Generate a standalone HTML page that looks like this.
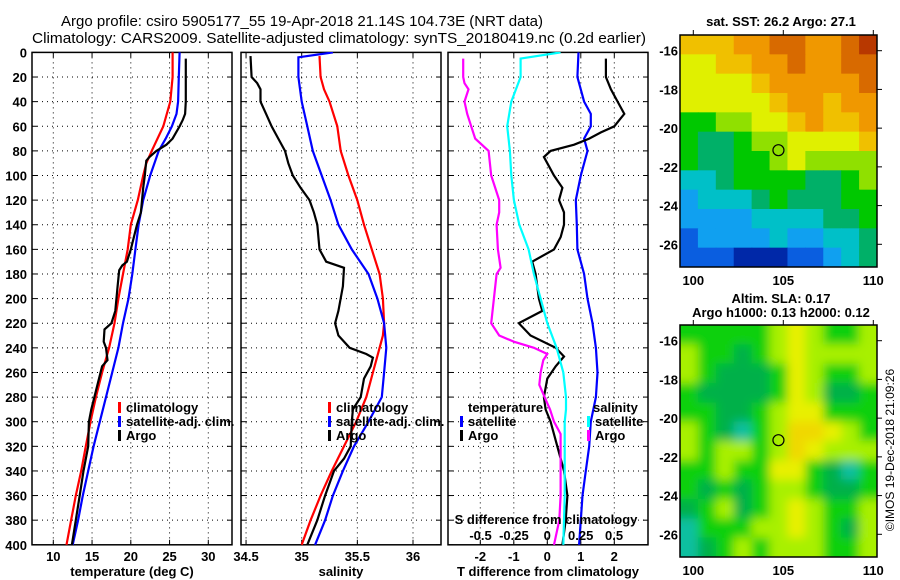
<!DOCTYPE html>
<html><head><meta charset="utf-8">
<style>
html,body{margin:0;padding:0;background:#fff;}
svg{display:block;font-family:"Liberation Sans",sans-serif;font-weight:bold;}
</style></head>
<body>
<svg id="fig" width="900" height="580" viewBox="0 0 900 580" xmlns="http://www.w3.org/2000/svg">
<defs><filter id="blur" x="0" y="0" width="1" height="1"><feGaussianBlur stdDeviation="5"/></filter>
<clipPath id="c1"><rect x="32" y="52" width="200" height="493"/></clipPath>
<clipPath id="c2"><rect x="241" y="52" width="200" height="493"/></clipPath>
<clipPath id="c3"><rect x="448" y="52" width="200" height="493"/></clipPath>
<clipPath id="m1"><rect x="680" y="35" width="197" height="232"/></clipPath>
<clipPath id="m2"><rect x="680" y="325" width="197" height="232"/></clipPath>
</defs>
<text x="61" y="26" font-size="15" font-weight="normal" textLength="482" lengthAdjust="spacingAndGlyphs">Argo profile: csiro 5905177_55 19-Apr-2018 21.14S 104.73E (NRT data)</text>
<text x="32" y="43" font-size="15" font-weight="normal" textLength="614" lengthAdjust="spacingAndGlyphs">Climatology: CARS2009. Satellite-adjusted climatology: synTS_20180419.nc (0.2d earlier)</text>
<g id="plots"></g>
<text x="781" y="26" font-size="13" text-anchor="middle">sat. SST: 26.2 Argo: 27.1</text>
<text x="781" y="303" font-size="13" text-anchor="middle">Altim. SLA: 0.17</text>
<text x="781" y="317" font-size="13" text-anchor="middle">Argo h1000: 0.13 h2000: 0.12</text>
<text transform="translate(894,450) rotate(-90)" font-size="12" font-weight="normal" text-anchor="middle">©IMOS 19-Dec-2018 21:09:26</text>
</svg>
<script>
// ---------- data ----------
const depthTick=[0,20,40,60,80,100,120,140,160,180,200,220,240,260,280,300,320,340,360,380,400];
const tempTicks=[10,15,20,25,30];
const salTicks=[34.5,35,35.5,36];
const tdiffTicks=[-2,-1,0,1,2];
const sdiffTicks=[-0.5,-0.25,0,0.25,0.5];
const sdiffLabels=["-0.5","-0.25","0","0.25","0.5"];

const tClimDepth=[0,20,40,60,80,90,100,120,140,160,180,200,220,240,260,280,300,320,340,360,380,400];
const tClimVal=[25.4,25.4,25.1,24.2,22.7,22.0,21.6,20.9,20.0,19.6,19.0,18.4,17.9,17.2,16.3,15.5,14.8,14.2,13.6,12.9,12.3,11.7];
const tSatDepth=[0,20,40,50,60,70,80,100,120,140,160,180,200,220,240,260,280,300,320,340,360,380,400];
const tSatVal=[26.3,26.2,26.1,25.9,25.3,24.5,23.6,22.5,21.6,21.0,20.6,20.2,19.7,19.0,18.4,17.6,16.8,16.0,15.2,14.5,13.8,13.2,12.5];
const tArgoDepth=[5,20,40,50,55,60,70,75,80,85,88,100,110,130,140,150,160,170,173,177,190,210,220,225,235,240,250,255,265,290,300,320,340,360,380,400];
const tArgoVal=[27.1,27.1,27.1,27.0,26.7,26.3,25.4,24.6,23.3,22.4,22.0,21.8,21.6,21.3,20.8,20.4,20.0,19.5,18.9,18.5,18.3,18.0,17.5,16.6,16.5,16.8,17.0,16.3,15.9,14.9,14.6,14.5,13.9,13.4,12.9,12.4];

const sClimDepth=[3,20,30,40,60,80,100,120,140,160,180,200,220,230,240,260,280,300,320,340,360,380,400];
const sClimVal=[35.16,35.17,35.2,35.25,35.32,35.35,35.42,35.5,35.56,35.63,35.7,35.73,35.74,35.73,35.70,35.64,35.58,35.49,35.38,35.27,35.17,35.08,35.0];
const sSatDepth=[0,4,20,40,60,80,100,120,140,160,180,200,220,240,260,280,300,320,340,360,380,400];
const sSatVal=[35.28,34.97,34.97,35.0,35.05,35.1,35.18,35.26,35.33,35.45,35.6,35.68,35.74,35.76,35.74,35.72,35.6,35.47,35.37,35.28,35.21,35.12];
const sArgoDepth=[3,20,25,30,40,50,60,70,80,90,100,110,120,130,140,160,170,175,190,210,220,230,240,245,248,255,265,280,290,300,320,330,340,360,380,400];
const sArgoVal=[34.54,34.55,34.6,34.63,34.63,34.68,34.73,34.79,34.85,34.88,34.92,34.99,35.07,35.11,35.14,35.16,35.22,35.38,35.37,35.33,35.3,35.33,35.43,35.58,35.64,35.62,35.56,35.53,35.46,35.45,35.44,35.38,35.29,35.21,35.14,35.05];

const dtSatDepth=[0,20,40,50,60,70,80,100,120,140,160,180,200,220,240,260,280,300,320,340,360,380,400];
const dtSatVal=[0.93,0.9,1.1,1.3,1.3,1.1,1.2,1.0,0.85,0.88,0.9,1.1,1.2,1.35,1.45,1.5,1.45,1.3,1.25,1.15,1.05,1.0,0.95];
const dtArgoDepth=[5,20,30,40,50,55,60,65,70,75,80,85,90,100,110,120,130,140,150,160,170,180,200,210,220,230,240,247,255,265,280,290,300,320,340,360,380,400];
const dtArgoVal=[1.75,1.75,1.9,2.1,2.3,2.15,2.0,1.6,1.25,0.8,0.1,-0.1,0.0,0.2,0.45,0.35,0.5,0.5,0.4,0.2,-0.45,-0.35,-0.25,-0.15,-0.85,-0.5,0.25,0.5,0.25,0.0,-0.1,-0.05,0.1,0.3,0.5,0.6,0.55,0.45];
const dsSatDepth=[0,5,20,40,60,80,100,120,140,160,180,200,220,240,260,280,290,300,320,360,400];
const dsSatVal=[0.1,-0.2,-0.2,-0.27,-0.3,-0.28,-0.27,-0.25,-0.21,-0.14,-0.1,-0.05,0.0,0.07,0.12,0.14,0.14,0.13,0.13,0.13,0.12];
const dsArgoDepth=[5,20,25,30,40,50,60,70,80,90,100,120,130,140,160,175,180,200,220,230,235,240,245,250,260,270,280,290,300,310,330,360,380,400];
const dsArgoVal=[-0.63,-0.63,-0.62,-0.59,-0.62,-0.6,-0.57,-0.54,-0.44,-0.43,-0.42,-0.36,-0.36,-0.38,-0.37,-0.35,-0.38,-0.4,-0.42,-0.36,-0.25,-0.1,0.0,-0.03,-0.05,-0.06,-0.02,0.02,0.05,0.1,0.1,0.1,0.09,0.05];

const mapLonTicks=[100,105,110];
const mapLatTicks=[-16,-18,-20,-22,-24,-26];
const argoLon=104.73, argoLat=-21.14;
const sstGrid=[
[8,8,8,9,9,10,10,9,9,10,11],
[7,7,8,8,9,9,10,9,9,10,10],
[7,7,7,7,8,9,9,9,9,9,10],
[7,7,7,7,7,8,9,9,8,9,9],
[5,5,6,6,7,7,8,9,8,8,9],
[5,4,4,5,6,6,7,7,7,7,8],
[5,4,4,5,5,6,7,6,6,6,6],
[3,3,4,5,5,5,5,4,4,5,6],
[2,3,3,3,4,5,4,4,4,5,5],
[2,2,2,2,3,3,3,3,4,4,5],
[1,2,2,2,2,3,2,2,3,3,4],
[1,1,1,0,0,0,1,1,2,3,4]];
const slaGrid=[
[2,2,2,2,2,3,4,3,2,2,3],
[3,2,2,1,2,3,4,3,3,3,3],
[3,2,1,1,1,2,4,3,2,2,3],
[2,1,1,1,1,2,4,3,1,1,2],
[2,2,1,1,2,3,4,4,2,2,2],
[3,2,1,0,2,3,5,5,4,3,2],
[3,2,3,3,2,3,5,4,3,3,3],
[2,2,3,2,2,4,4,2,1,0,2],
[2,1,2,1,2,3,3,2,1,1,2],
[1,2,3,1,2,3,4,3,2,2,3],
[0,2,2,2,3,3,4,3,2,1,3],
[0,1,2,3,2,3,3,3,2,2,3]];
const sstColors=["#0028a8","#0a5ee0","#10a0f0","#00c0c8","#00b068","#00c800","#90e000","#e0f000","#f0c000","#f09800","#d86a00","#b83800"];
const slaColors=["#10c0a0","#00b048","#10d010","#a8f000","#e8f000","#f0d800"];

// ---------- helpers ----------
const NS="http://www.w3.org/2000/svg";
const root=document.getElementById('plots');
function el(tag,attrs,parent){const e=document.createElementNS(NS,tag);for(const k in attrs)e.setAttribute(k,attrs[k]);(parent||root).appendChild(e);return e;}
const Y0=52.4,YH=492.4;
const yD=d=>Y0+d/400*YH;
const xT=t=>53.3+(t-10)*7.75;
const xS=s=>301.7+(s-35)*111.3;
const xDT=v=>547.3+v*33.5;
const xDS=v=>547.3+v*133.5;

function panel(name,x0,x1,clip,vticks,vlabels,xf,title){
  const g=el('g',{});
  
  
  vticks.forEach(v=>{const l=el('line',{x1:xf(v),x2:xf(v),y1:Y0,y2:Y0+YH,stroke:'#000','stroke-width':1,'stroke-dasharray':'1,4'},g);
    
    el('line',{x1:xf(v),x2:xf(v),y1:Y0+YH,y2:Y0+YH-5,stroke:'#000'},g);
    el('line',{x1:xf(v),x2:xf(v),y1:Y0,y2:Y0+5,stroke:'#000'},g);});
  depthTick.forEach(d=>{if(d>0&&d<400){const l=el('line',{x1:x0,x2:x1,y1:yD(d),y2:yD(d),stroke:'#000','stroke-width':1,'stroke-dasharray':'1,4'},g);
    }
    el('line',{x1:x0,x2:x0+5,y1:yD(d),y2:yD(d),stroke:'#000'},g);
    el('line',{x1:x1-5,x2:x1,y1:yD(d),y2:yD(d),stroke:'#000'},g);});
  const fr=el('rect',{x:x0,y:Y0,width:x1-x0,height:YH,fill:'none',stroke:'#000','stroke-width':1.5},g);
  
  vticks.forEach((v,i)=>{const t=el('text',{x:xf(v),y:561,'font-size':13,'text-anchor':'middle'},g);t.textContent=vlabels[i];
    });
  const tt=el('text',{x:(x0+x1)/2,y:576,'font-size':13,'text-anchor':'middle'},g);tt.textContent=title;
  
  return g;
}
function series(name,depths,vals,xf,color,clip){
  const pts=depths.map((d,i)=>xf(vals[i]).toFixed(1)+','+yD(d).toFixed(1)).join(' ');
  const p=el('polyline',{points:pts,fill:'none',stroke:color,'stroke-width':2.2,'clip-path':'url(#'+clip+')'});
  
  
}
function legend(x,y,color,label,name){
  const g=el('g',{});
  
  
  el('rect',{x:x,y:y-10,width:3,height:11,fill:color},g);
  const t=el('text',{x:x+8,y:y,'font-size':13},g);t.textContent=label;
}

depthTick.forEach(d=>{const t=el('text',{x:27,y:yD(d)+5,'font-size':13,'text-anchor':'end'});t.textContent=d;
  });

panel('temperature-panel',32,232,'c1',tempTicks,tempTicks.map(String),xT,'temperature (deg C)');
series('temperature-climatology-line',tClimDepth,tClimVal,xT,'#ff0000','c1');
series('temperature-satellite-line',tSatDepth,tSatVal,xT,'#0000ff','c1');
series('temperature-argo-line',tArgoDepth,tArgoVal,xT,'#000000','c1');
legend(118,412,'#ff0000','climatology','legend-climatology');
legend(118,426,'#0000ff','satellite-adj. clim.','legend-satellite-adj');
legend(118,440,'#000000','Argo','legend-argo');

panel('salinity-panel',241,441,'c2',salTicks,salTicks.map(String),xS,'salinity');
series('salinity-climatology-line',sClimDepth,sClimVal,xS,'#ff0000','c2');
series('salinity-satellite-line',sSatDepth,sSatVal,xS,'#0000ff','c2');
series('salinity-argo-line',sArgoDepth,sArgoVal,xS,'#000000','c2');
legend(328,412,'#ff0000','climatology','legend-sal-climatology');
legend(328,426,'#0000ff','satellite-adj. clim.','legend-sal-satellite-adj');
legend(328,440,'#000000','Argo','legend-sal-argo');

panel('difference-panel',448,648,'c3',tdiffTicks,tdiffTicks.map(String),xDT,'T difference from climatology');
series('tdiff-satellite-line',dtSatDepth,dtSatVal,xDT,'#0000ff','c3');
series('tdiff-argo-line',dtArgoDepth,dtArgoVal,xDT,'#000000','c3');
series('sdiff-satellite-line',dsSatDepth,dsSatVal,xDS,'#00ffff','c3');
series('sdiff-argo-line',dsArgoDepth,dsArgoVal,xDS,'#ff00ff','c3');
{const t=el('text',{x:468,y:412,'font-size':13});t.textContent='temperature';
 
 const s=el('text',{x:593,y:412,'font-size':13});s.textContent='salinity';
 }
legend(460,426,'#0000ff','satellite','legend-tdiff-satellite');
legend(460,440,'#000000','Argo','legend-tdiff-argo');
legend(587,426,'#00ffff','satellite','legend-sdiff-satellite');
legend(587,440,'#ff00ff','Argo','legend-sdiff-argo');
{const t=el('text',{x:546,y:524,'font-size':13,'text-anchor':'middle'});t.textContent='S difference from climatology';
 
 sdiffTicks.forEach((v,i)=>{const l=el('text',{x:xDS(v),y:540,'font-size':13,'text-anchor':'middle'});l.textContent=sdiffLabels[i];
  });}

const lonX=lon=>693.3+(lon-100)*18;
function map(name,top,grid,colors,blur,clip){
  const latY=lat=>top+15.7+(-16-lat)*19.36;
  const g=el('g',{'clip-path':'url(#'+clip+')'});
  
  
  const inner=el('g',blur?{filter:'url(#blur)'}:{},g);
  const nr=grid.length,nc=grid[0].length;
  const cw=197/nc,ch=232/nr;
  for(let r=-1;r<=nr;r++)for(let c=-1;c<=nc;c++){
    const rr=Math.min(nr-1,Math.max(0,r)),cc=Math.min(nc-1,Math.max(0,c));
    const rc=el('rect',{x:680+c*cw,y:top+r*ch,width:cw+0.6,height:ch+0.6,fill:colors[grid[rr][cc]]},inner);
    
    
  }
  const fr=el('rect',{x:680,y:top,width:197,height:232,fill:'none',stroke:'#000','stroke-width':1.5});
  
  const c=el('circle',{cx:lonX(argoLon),cy:latY(argoLat),r:5.5,fill:'none',stroke:'#000','stroke-width':1.2});
  
  mapLatTicks.forEach(l=>{const t=el('text',{x:678,y:latY(l)+5,'font-size':13,'text-anchor':'end'});t.textContent=String(l);
    
    el('line',{x1:877,x2:882,y1:latY(l),y2:latY(l),stroke:'#000'});});
  mapLonTicks.forEach(l=>{const t=el('text',{x:lonX(l),y:top+250,'font-size':13,'text-anchor':'middle'});t.textContent=String(l);
    
    el('line',{x1:lonX(l),x2:lonX(l),y1:top-5,y2:top,stroke:'#000'});});
}
map('sst-map',35,sstGrid,sstColors,false,'m1');
map('sla-map',325,slaGrid,slaColors,true,'m2');
</script>
</body></html>
